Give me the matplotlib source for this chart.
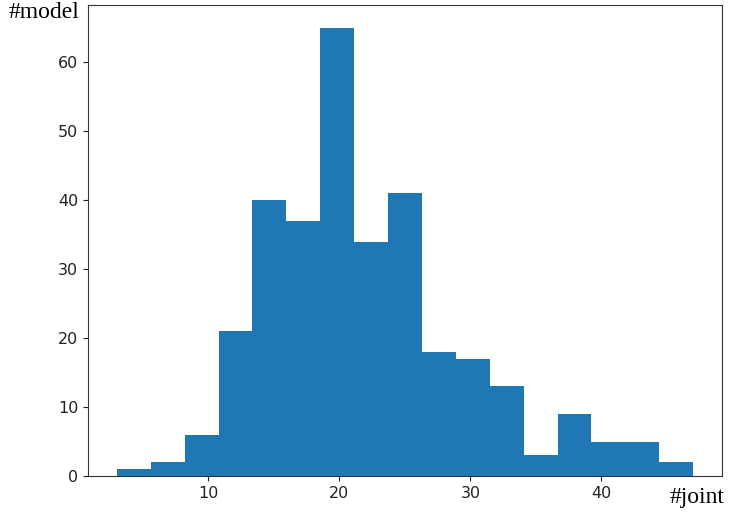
import matplotlib
matplotlib.use("Agg")
import matplotlib.pyplot as plt
import numpy as np

# histogram counts (17 bins between 3 and 47)
counts = [1, 2, 6, 21, 40, 37, 65, 34, 41, 18, 17, 13, 3, 9, 5, 5, 2]
x_min = 3
x_max = 47
xticks = [10, 20, 30, 40]
yticks = [0, 10, 20, 30, 40, 50, 60]

edges = np.linspace(x_min, x_max, len(counts) + 1)
centers = (edges[:-1] + edges[1:]) / 2

plt.rcParams['font.family'] = ['DejaVu Sans']
fig = plt.figure(figsize=(7.43, 5.14), dpi=100)
ax = fig.add_axes([0.1184, 0.0739, 0.8533, 0.9155])
ax.hist(centers, bins=edges, weights=counts, color="#1f77b4")

ax.set_xticks(xticks)
ax.set_yticks(yticks)
ax.tick_params(labelsize=11.5, colors="#222222")
for s in ax.spines.values():
    s.set_color("#333333")

fig.text(0.012, 1 - 18 / 514, "#model", family="Liberation Serif", fontsize=17, va="baseline", ha="left")
fig.text(0.975, 1 - 503 / 514, "#joint", family="Liberation Serif", fontsize=17, va="baseline", ha="right")

fig.savefig("out.png", dpi=100)
